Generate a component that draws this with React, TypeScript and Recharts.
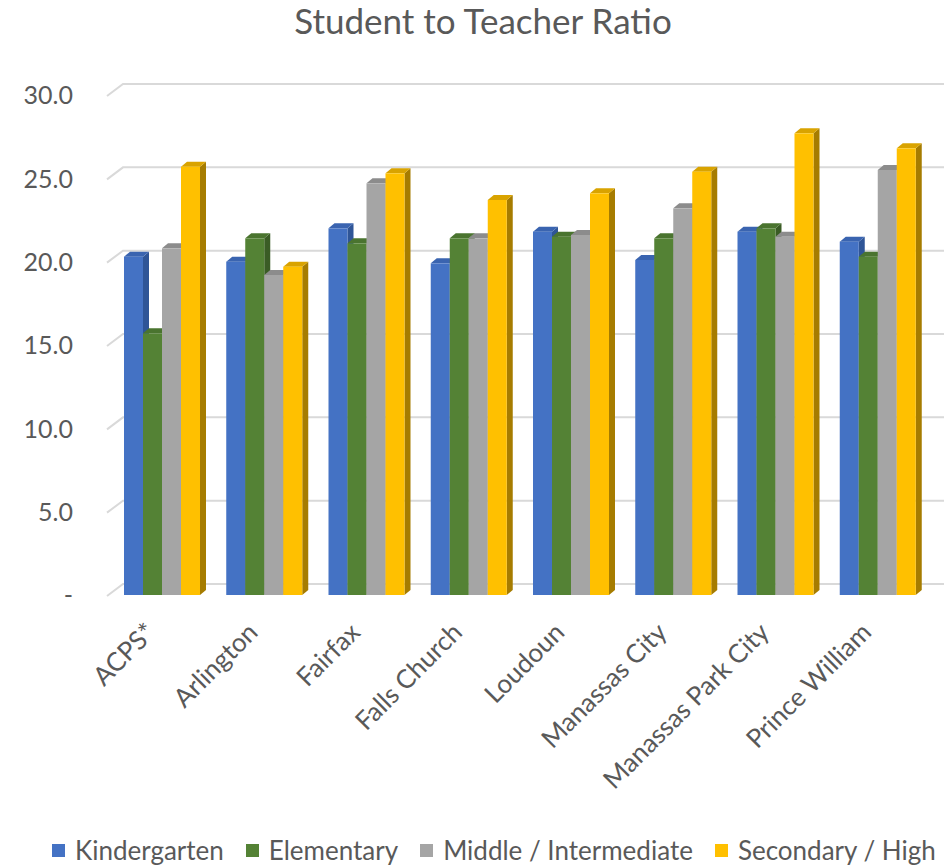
import React from "react";
import { BarChart, Bar, XAxis, YAxis, CartesianGrid, Legend } from "recharts";

const divisions = [
  "ACPS*",
  "Arlington",
  "Fairfax",
  "Falls Church",
  "Loudoun",
  "Manassas City",
  "Manassas Park City",
  "Prince William",
];
const kindergarten = [20.3, 20.0, 22.0, 19.9, 21.8, 20.1, 21.8, 21.2];
const elementary = [15.7, 21.4, 21.1, 21.4, 21.5, 21.4, 22.0, 20.3];
const middle = [20.8, 19.2, 24.7, 21.4, 21.6, 23.2, 21.5, 25.5];
const secondary = [25.7, 19.7, 25.3, 23.7, 24.1, 25.4, 27.7, 26.8];
const yTicks = [0, 5, 10, 15, 20, 25, 30];

const series = [
  { key: "Kindergarten", front: "#4472C4", top: "#3A64B0", side: "#2F5597" },
  { key: "Elementary", front: "#548235", top: "#4A742F", side: "#3A5C25" },
  { key: "Middle / Intermediate", front: "#A5A5A5", top: "#8C8C8C", side: "#7F7F7F" },
  { key: "Secondary / High", front: "#FFC000", top: "#D9A300", side: "#A67C00" },
];

const data = divisions.map((name, i) => ({
  name,
  Kindergarten: kindergarten[i],
  Elementary: elementary[i],
  "Middle / Intermediate": middle[i],
  "Secondary / High": secondary[i],
}));

const FONT = "Lato, 'Open Sans', sans-serif";
const TEXT = "#595959";
const DX = 6;
const DY = 5;

// column with a top and a right side face, like an Excel 3-D column
function makeShape(front: string, top: string, side: string) {
  return (props: any) => {
    const { x, y, width, height } = props;
    if (height == null || height <= 0) return <g />;
    const b = y + height;
    return (
      <g>
        <path
          d={`M${x + width},${y} L${x + width + DX},${y - DY} L${x + width + DX},${b - DY} L${x + width},${b} Z`}
          fill={side}
        />
        <path
          d={`M${x},${y} L${x + DX},${y - DY} L${x + width + DX},${y - DY} L${x + width},${y} Z`}
          fill={top}
        />
        <rect x={x} y={y} width={width} height={height} fill={front} />
      </g>
    );
  };
}

function gridLine(props: any) {
  const { x1, x2, y1 } = props;
  return (
    <path
      key={`grid-${y1}`}
      d={`M${x1 - 4},${y1 + 1} L${x1 + 12},${y1 - 11} L${x2 + 15},${y1 - 11}`}
      fill="none"
      stroke="#D9D9D9"
      strokeWidth={2}
    />
  );
}

function YTick(props: any) {
  const { y, payload } = props;
  const label = payload.value === 0 ? "-" : Number(payload.value).toFixed(1);
  return (
    <text
      x={73}
      y={y + 3}
      textAnchor="end"
      dominantBaseline="middle"
      fill={TEXT}
      fontSize={25}
      fontFamily={FONT}
    >
      {label}
    </text>
  );
}

function XTick(props: any) {
  const { x, payload } = props;
  const tx = x - 5;
  const ty = 634;
  return (
    <text
      x={tx}
      y={ty}
      textAnchor="end"
      fill={TEXT}
      fontSize={26}
      fontFamily={FONT}
      transform={`rotate(-45, ${tx}, ${ty})`}
    >
      {payload.value}
    </text>
  );
}

function LegendBox() {
  return (
    <div
      style={{
        display: "flex",
        justifyContent: "flex-start",
        alignItems: "center",
        gap: 22,
        paddingLeft: 52,
        fontFamily: FONT,
        fontSize: 26,
        lineHeight: "30px",
        color: TEXT,
        height: 30,
        whiteSpace: "nowrap",
      }}
    >
      {series.map((s) => (
        <span key={s.key} style={{ display: "flex", alignItems: "center" }}>
          <span
            style={{
              display: "inline-block",
              width: 13,
              height: 13,
              background: s.front,
              marginRight: 10,
            }}
          />
          {s.key}
        </span>
      ))}
    </div>
  );
}

export default function App() {
  return (
    <div
      style={{
        position: "absolute",
        top: 0,
        left: 0,
        width: 948,
        height: 866,
        background: "#fff",
      }}
    >
      <div
        style={{
          position: "absolute",
          top: -2,
          left: 9,
          width: 948,
          textAlign: "center",
          fontFamily: FONT,
          fontSize: 35,
          color: TEXT,
          lineHeight: "44px",
        }}
      >
        Student to Teacher Ratio
      </div>
      <BarChart
        width={948}
        height={866}
        data={data}
        margin={{ top: 95, right: 19, bottom: 1, left: 0 }}
        barCategoryGap={13}
        barGap={0}
      >
        <CartesianGrid horizontal={gridLine} vertical={false} />
        <YAxis
          width={111}
          domain={[0, 30]}
          ticks={yTicks}
          axisLine={false}
          tickLine={false}
          tick={<YTick />}
          interval={0}
        />
        <XAxis
          dataKey="name"
          height={240}
          axisLine={false}
          tickLine={false}
          tick={<XTick />}
          interval={0}
        />
        <Legend verticalAlign="bottom" height={30} content={<LegendBox />} />
        {series.map((s) => (
          <Bar
            key={s.key}
            dataKey={s.key}
            isAnimationActive={false}
            shape={makeShape(s.front, s.top, s.side)}
          />
        ))}
      </BarChart>
    </div>
  );
}
